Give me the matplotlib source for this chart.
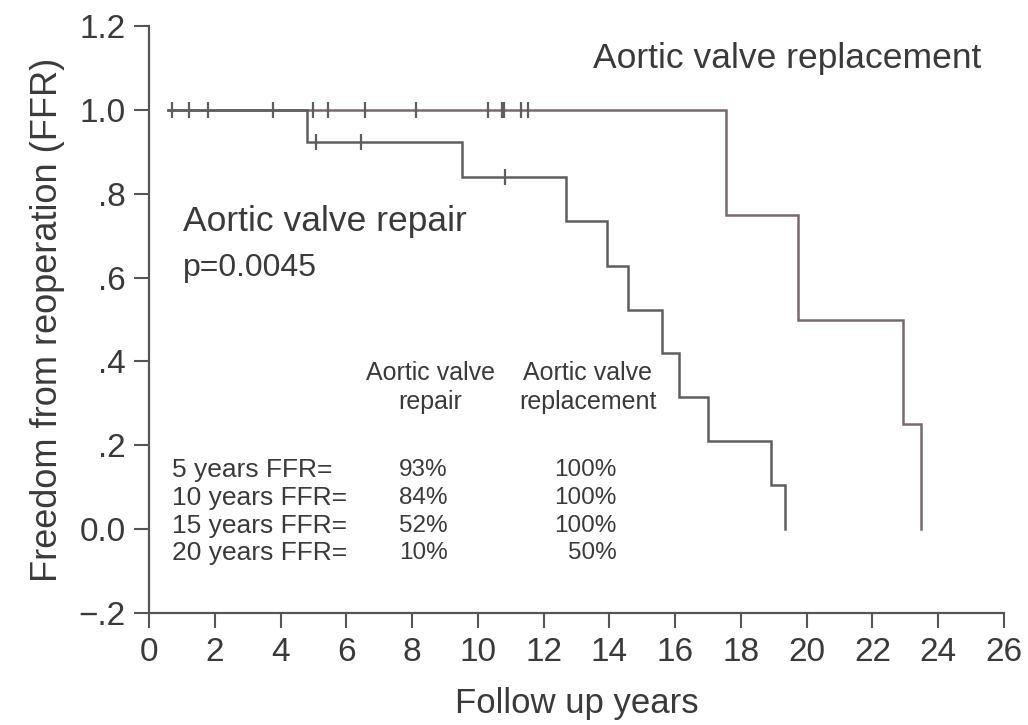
import matplotlib
matplotlib.use("Agg")
import matplotlib.pyplot as plt

plt.rcParams['font.family'] = ['Liberation Sans', 'DejaVu Sans']

# ---- data ----
follow_start = 0.57
repair_event_times = [4.79, 9.50, 12.68, 13.92, 14.57, 15.59, 16.12, 17.0, 18.9, 19.35]
repair_surv = [0.923, 0.839, 0.734, 0.629, 0.524, 0.420, 0.315, 0.210, 0.105, 0.0]
repair_censor_t = [0.70, 1.22, 1.78, 3.75, 5.07, 6.44, 10.82]
repair_censor_s = [1.0, 1.0, 1.0, 1.0, 0.923, 0.923, 0.839]

repl_event_times = [17.55, 19.75, 22.94, 23.47]
repl_surv = [0.75, 0.50, 0.25, 0.0]
repl_censor_t = [4.97, 5.45, 6.56, 8.11, 10.31, 10.72, 10.80, 11.30, 11.53]
repl_censor_s = [1.0] * 9

x_ticks = list(range(0, 27, 2))
y_ticks = [-0.2, 0.0, 0.2, 0.4, 0.6, 0.8, 1.0, 1.2]
y_tick_labels = ['\u2212.2', '0.0', '.2', '.4', '.6', '.8', '1.0', '1.2']

table_rows = ['5 years FFR=', '10 years FFR=', '15 years FFR=', '20 years FFR=']
table_repair = ['93%', '84%', '52%', '10%']
table_repl = ['100%', '100%', '100%', '50%']

fig = plt.figure(figsize=(10.28, 7.25), dpi=100)
ax = fig.add_axes([0.1452, 0.1545, 0.8314, 0.8094])

line_col = '#5e5e5e'
repl_col = '#76686b'
txt_col = '#3a3a3a'


def step_xy(times, surv):
    xs, ys = [follow_start], [1.0]
    prev = 1.0
    for t, s in zip(times, surv):
        xs += [t, t]
        ys += [prev, s]
        prev = s
    return xs, ys


xr, yr = step_xy(repl_event_times, repl_surv)
ax.plot(xr, yr, color=repl_col, lw=1.8, solid_joinstyle='miter')
xp, yp = step_xy(repair_event_times, repair_surv)
ax.plot(xp, yp, color=line_col, lw=1.8, solid_joinstyle='miter')

ax.plot(repl_censor_t, repl_censor_s, linestyle='none', marker='|', ms=11,
        mew=1.6, color=line_col)
ax.plot(repair_censor_t, repair_censor_s, linestyle='none', marker='|', ms=11,
        mew=1.6, color=line_col)

ax.set_xlim(0, 26)
ax.set_ylim(-0.2, 1.2)
ax.set_xticks(x_ticks)
ax.set_yticks(y_ticks)
ax.set_yticklabels(y_tick_labels)
for s in ['top', 'right']:
    ax.spines[s].set_visible(False)
for s in ['left', 'bottom']:
    ax.spines[s].set_color('#555555')
    ax.spines[s].set_linewidth(1.6)
ax.tick_params(axis='both', direction='out', length=11, width=1.5,
               color='#555555', labelcolor=txt_col, labelsize=24, pad=6)
ax.set_xlabel('Follow up years', fontsize=25, color=txt_col, labelpad=14)
ax.set_ylabel('Freedom from reoperation (FFR)', fontsize=26, color=txt_col,
              labelpad=10)

ax.text(13.49, 1.122, 'Aortic valve replacement', fontsize=25.5, color=txt_col,
        ha='left', va='center')
ax.text(1.02, 0.733, 'Aortic valve repair', fontsize=25.5, color=txt_col,
        ha='left', va='center')
ax.text(1.02, 0.623, 'p=0.0045', fontsize=23, color=txt_col,
        ha='left', va='center')

ax.text(8.55, 0.372, 'Aortic valve', fontsize=18, color=txt_col, ha='center', va='center')
ax.text(8.55, 0.303, 'repair', fontsize=18, color=txt_col, ha='center', va='center')
ax.text(13.33, 0.372, 'Aortic valve', fontsize=18, color=txt_col, ha='center', va='center')
ax.text(13.33, 0.303, 'replacement', fontsize=18, color=txt_col, ha='center', va='center')

row_y = [0.140, 0.075, 0.007, -0.058]
for y, lab, a, b in zip(row_y, table_rows, table_repair, table_repl):
    ax.text(0.70, y, lab, fontsize=19, color=txt_col, ha='left', va='center')
    ax.text(9.07, y, a, fontsize=17.5, color=txt_col, ha='right', va='center')
    ax.text(14.22, y, b, fontsize=17.5, color=txt_col, ha='right', va='center')

fig.savefig('out.png', dpi=100, facecolor='white')
